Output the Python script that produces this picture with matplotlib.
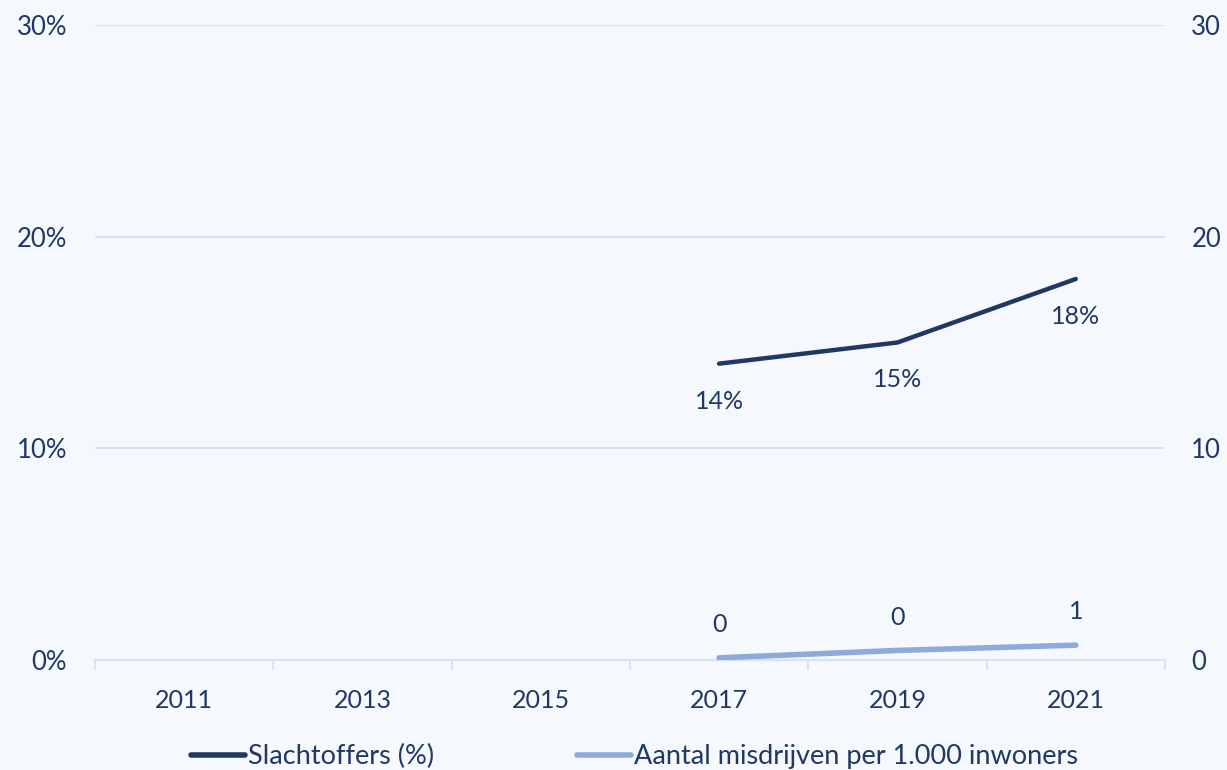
import matplotlib.pyplot as plt
from matplotlib.ticker import FuncFormatter, FixedLocator
import numpy as np

# chart data
years = ["2011", "2013", "2015", "2017", "2019", "2021"]
slachtoffers = [np.nan, np.nan, np.nan, 14, 15, 18]
misdrijven = [np.nan, np.nan, np.nan, 0.1, 0.45, 0.7]
left_ticks = [0, 10, 20, 30]
right_ticks = [0, 10, 20, 30]

navy = "#203864"
light_blue = "#8eaadb"
grid_color = "#dae3f3"
background = "#f5f8fc"

plt.rcParams["font.family"] = ["Lato", "DejaVu Sans"]

fig = plt.figure(figsize=(12.27, 7.7), dpi=100, facecolor=background)
ax = fig.add_axes([0.0774, 0.1429, 0.872, 0.8246])
ax.set_facecolor(background)
ax2 = ax.twinx()

x = np.arange(len(years))

ax.plot(x, slachtoffers, color=navy, linewidth=3.2, solid_capstyle="round",
	label="Slachtoffers (%)", zorder=3)
ax2.plot(x, misdrijven, color=light_blue, linewidth=4, solid_capstyle="round",
	label="Aantal misdrijven per 1.000 inwoners", zorder=3)

for xi, value in zip(x, slachtoffers):
	if np.isnan(value):
		continue
	ax.annotate(f"{value:.0f}%", (xi, value), xytext=(0, -27),
		textcoords="offset points", ha="center", va="center",
		fontsize=18, color=navy)

for xi, value in zip(x, misdrijven):
	if np.isnan(value):
		continue
	ax2.annotate(f"{value:.0f}", (xi, value), xytext=(0, 24),
		textcoords="offset points", ha="center", va="center",
		fontsize=18, color=navy)

ax.set_xlim(-0.5, len(years) - 0.5)
ax.set_ylim(0, 30)
ax2.set_ylim(0, 30)

ax.set_xticks(x)
ax.set_xticklabels(years)
ax.xaxis.set_minor_locator(FixedLocator(np.arange(-0.5, len(years), 1.0)))
ax.tick_params(axis="x", which="major", length=0, pad=21, labelsize=18, labelcolor=navy)
ax.tick_params(axis="x", which="minor", length=7, width=1.5, color=grid_color)

ax.set_yticks(left_ticks)
ax.yaxis.set_major_formatter(FuncFormatter(lambda v, _: f"{v:.0f}%"))
ax.tick_params(axis="y", length=0, pad=20, labelsize=18.5, labelcolor=navy)

ax2.set_yticks(right_ticks)
ax2.tick_params(axis="y", length=0, pad=19, labelsize=18.5, labelcolor=navy)

ax.grid(axis="y", color=grid_color, linewidth=1.5)
ax.set_axisbelow(True)

for axis in (ax, ax2):
	for side in ("top", "left", "right"):
		axis.spines[side].set_visible(False)
	axis.spines["bottom"].set_color(grid_color)
	axis.spines["bottom"].set_linewidth(1.5)

handles = ax.get_lines() + ax2.get_lines()
legend = fig.legend(handles, [h.get_label() for h in handles],
	loc="lower center", bbox_to_anchor=(0.517, -0.031), ncol=2, frameon=False,
	fontsize=19.5, handlelength=2.0, handletextpad=0.1, columnspacing=5.3,
	labelcolor=navy)
for line in legend.get_lines():
	line.set_linewidth(4)

fig.savefig("out.png", dpi=100, facecolor=background)
